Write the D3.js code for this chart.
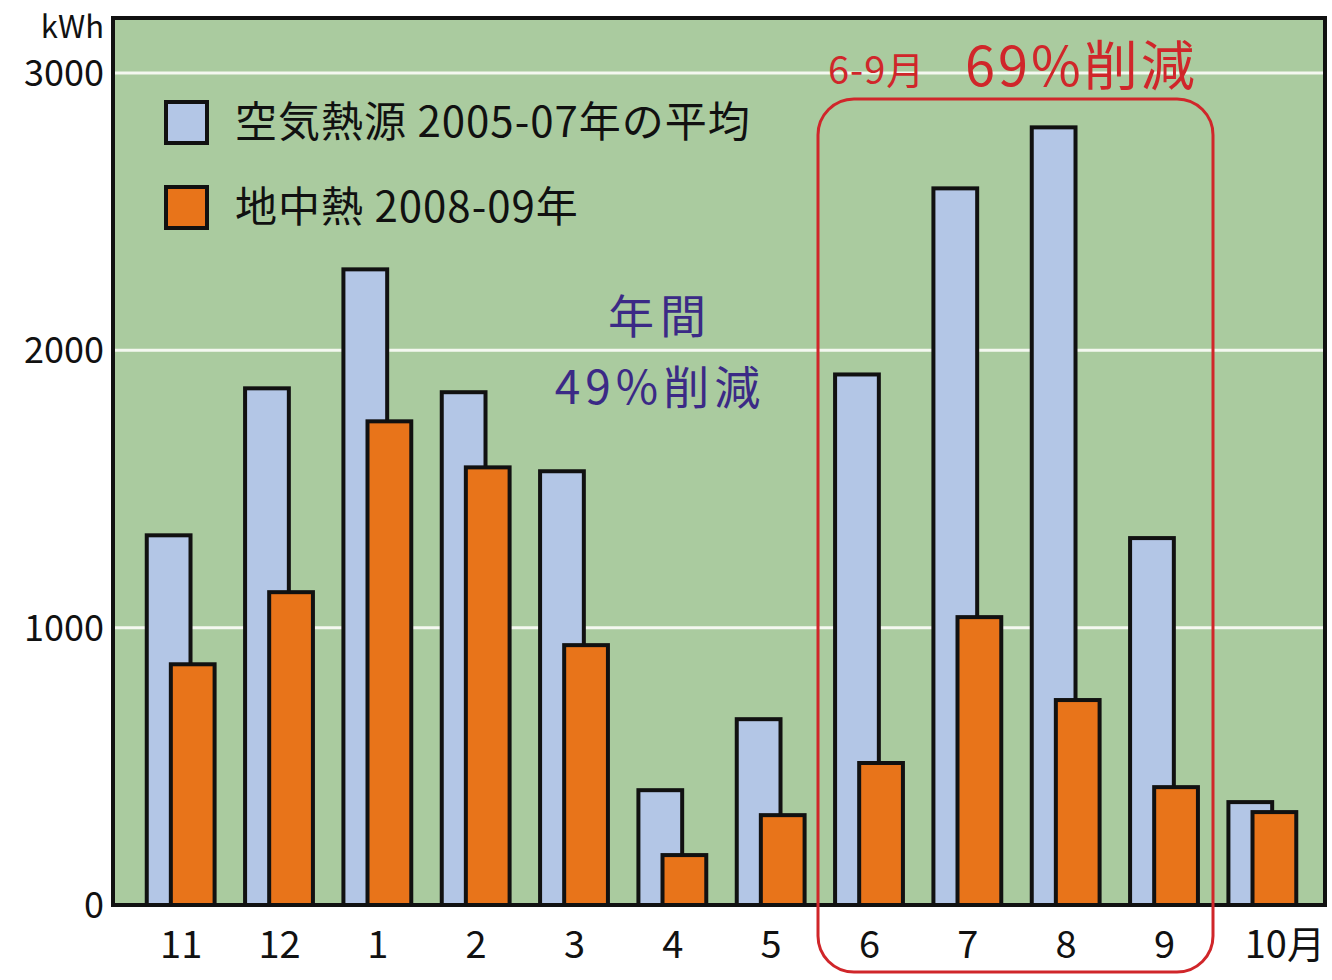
<!DOCTYPE html>
<html><head><meta charset="utf-8">
<script src="https://cdn.jsdelivr.net/npm/d3@7"></script>
<style>
html,body{margin:0;padding:0;background:#fff;}
svg{display:block;}
text{font-family:"Noto Sans CJK JP","Noto Sans",sans-serif;}
</style></head>
<body>
<svg id="chart" width="1332" height="980"></svg>
<script>
const months = ["11","12","1","2","3","4","5","6","7","8","9","10"];
const airSource = [1333,1863,2292,1849,1564,414,670,1913,2584,2804,1323,371];
const geothermal = [868,1128,1744,1578,937,180,324,512,1038,739,425,335];
const yTicks = [0,1000,2000,3000];
const legendLabels = ["空気熱源 2005-07年の平均","地中熱 2008-09年"];

const svg = d3.select("#chart");
const plot = {left:113, right:1325, top:18, bottom:905};
const x = d3.scaleBand().domain(months).range([132,1312]).padding(0);
const y = d3.scaleLinear().domain([0,3000]).range([905,73]);
const colBlue = "#b3c6e6", colOrange = "#e8741a", bg = "#aacb9f";

svg.append("rect").attr("x",plot.left).attr("y",plot.top)
  .attr("width",plot.right-plot.left).attr("height",plot.bottom-plot.top)
  .attr("fill",bg);

// grid
svg.append("g").selectAll("line").data(yTicks.filter(d=>d>0)).join("line")
  .attr("x1",plot.left).attr("x2",plot.right)
  .attr("y1",d=>y(d)).attr("y2",d=>y(d))
  .attr("stroke","#f4f8f0").attr("stroke-width",3);

// bars
const step = x.step();
const bw = step*0.445;
const g = svg.append("g");
months.forEach((m,i)=>{
  g.append("rect").attr("x",x(m)+step*0.15).attr("y",y(airSource[i]))
    .attr("width",bw).attr("height",y(0)-y(airSource[i]))
    .attr("fill",colBlue).attr("stroke","#111").attr("stroke-width",4);
  g.append("rect").attr("x",x(m)+step*0.395).attr("y",y(geothermal[i]))
    .attr("width",bw).attr("height",y(0)-y(geothermal[i]))
    .attr("fill",colOrange).attr("stroke","#111").attr("stroke-width",4);
});

// frame
svg.append("rect").attr("x",plot.left).attr("y",plot.top)
  .attr("width",plot.right-plot.left).attr("height",plot.bottom-plot.top)
  .attr("fill","none").attr("stroke","#111").attr("stroke-width",4);

// y axis labels
const yAxis = d3.axisLeft(y).tickValues(yTicks).tickSize(0).tickPadding(0)
  .tickFormat(d3.format("d"));
const ya = svg.append("g").attr("transform","translate(104,0)").call(yAxis);
ya.select(".domain").remove();
ya.selectAll("text").attr("font-size",36).attr("fill","#111")
  .attr("dy","0.35em").attr("x",0);
svg.append("text").attr("x",104).attr("y",27).attr("dy","0.35em")
  .attr("text-anchor","end").attr("font-size",31).attr("fill","#111")
  .text("kWh");

// x axis labels
const xAxis = d3.axisBottom(x).tickSize(0).tickPadding(0)
  .tickFormat(d=> d==="10" ? "10月" : d);
const xa = svg.append("g").attr("transform","translate(0,945)").call(xAxis);
xa.select(".domain").remove();
xa.selectAll("text").attr("font-size",38).attr("fill","#111")
  .attr("dy","0.35em").attr("y",0)
  .attr("dx",d=> d==="10" ? 22 : 0);

// legend
const legCols = [colBlue,colOrange];
legendLabels.forEach((t,i)=>{
  const cy = 122 + i*85;
  svg.append("rect").attr("x",166).attr("y",cy-20).attr("width",41).attr("height",41)
    .attr("fill",legCols[i]).attr("stroke","#111").attr("stroke-width",4);
  svg.append("text").attr("x",235).attr("y",cy).attr("dy","0.36em")
    .attr("font-size",42).attr("letter-spacing",1).attr("fill","#111").text(t);
});

// annual annotation
svg.append("text").attr("x",660).attr("y",316).attr("dy","0.36em")
  .attr("text-anchor","middle").attr("font-size",46).attr("letter-spacing",6)
  .attr("fill","#3b2a86").text("年間");
svg.append("text").attr("x",660).attr("y",387).attr("dy","0.36em")
  .attr("text-anchor","middle").attr("font-size",46).attr("letter-spacing",5)
  .attr("fill","#3b2a86").text("49%削減");

// summer box
svg.append("rect").attr("x",818).attr("y",99).attr("width",395).attr("height",873)
  .attr("rx",36).attr("ry",36).attr("fill","none")
  .attr("stroke","#d0262a").attr("stroke-width",3);
svg.append("text").attr("x",828).attr("y",70).attr("dy","0.36em")
  .attr("font-size",38).attr("letter-spacing",1).attr("fill","#d0262a").text("6-9月");
svg.append("text").attr("x",965).attr("y",67).attr("dy","0.36em")
  .attr("font-size",54).attr("letter-spacing",3).attr("fill","#d0262a").text("69%削減");
</script>
</body></html>
